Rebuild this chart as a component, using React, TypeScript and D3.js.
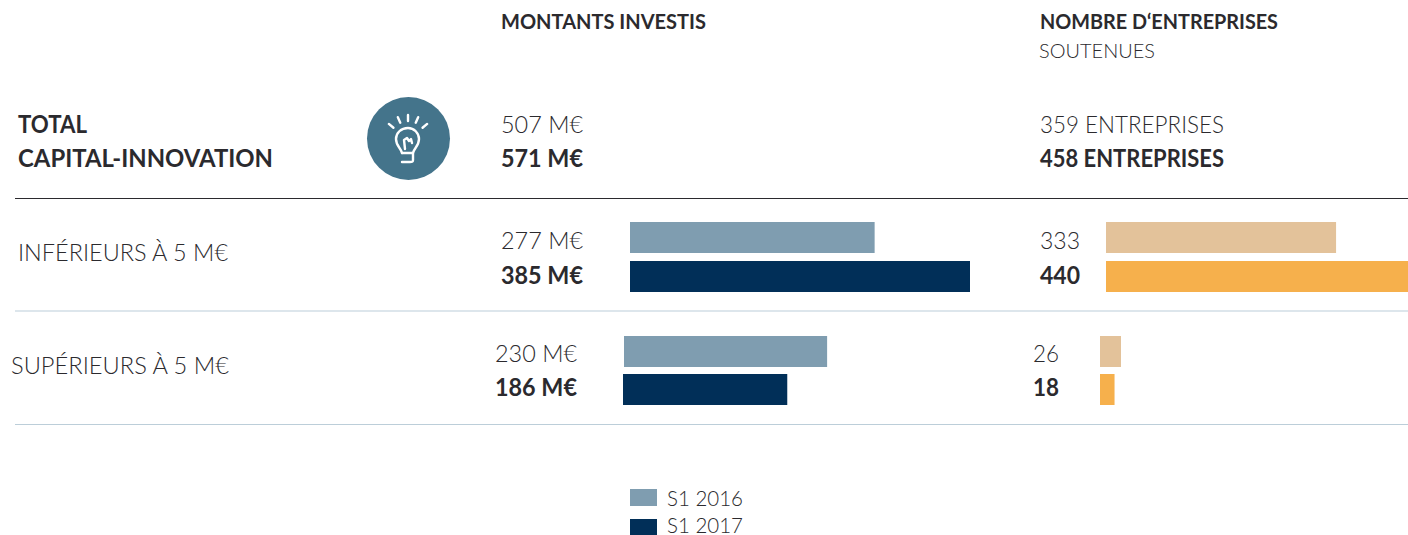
import React from "react";
import * as d3 from "d3";

const W = 1408, H = 535;
const FONT = "Lato, 'Open Sans', sans-serif";
const INK = "#2b2a2e";

const years = ["S1 2016", "S1 2017"];
const amountColors = ["#7f9db0", "#012f58"];
const countColors = ["#e3c29a", "#f6b04c"];
const totalAmounts = [507, 571];
const totalCounts = [359, 458];
const rowLabels = ["INFÉRIEURS À 5 M€", "SUPÉRIEURS À 5 M€"];
const amounts = [[277, 385], [230, 186]];
const counts = [[333, 440], [26, 18]];

const amountX = d3.scaleLinear().domain([0, 385]).range([0, 340]);
const countXs = [
  d3.scaleLinear().domain([0, 440]).range([0, 304]),
  d3.scaleLinear().domain([0, 26]).range([0, 21]),
];
// layout per row
const rowLayout = [
  { lblX: 18, lblY: 261, aTxt: 501, aBar: 630, aBar2: 630, cTxt: 1040, cBar: 1106, y: [222, 261], txtY: [249, 284], lineY: 311 },
  { lblX: 11, lblY: 374, aTxt: 495, aBar: 624, aBar2: 623, cTxt: 1033, cBar: 1100, y: [336, 374], txtY: [362, 396], lineY: 424.5 },
];
const BAR_H = 31;

function T({ x, y, children, bold, size = 24, len, fill = INK }: any) {
  return (
    <text x={x} y={y} fontFamily={FONT} fontSize={size} fontWeight={bold ? 700 : 300} fill={fill}
      textLength={len} lengthAdjust={len ? "spacingAndGlyphs" : undefined}>
      {children}
    </text>
  );
}

function Bulb() {
  const rayAngles = [-50, -24, 0, 24, 50];
  const cx = 408, cy = 140;
  return (
    <g>
      <circle cx={408.5} cy={138.5} r={41.5} fill="#44748b" />
      <g stroke="#fff" strokeWidth={2.4} fill="none" strokeLinecap="round" strokeLinejoin="round">
        {rayAngles.map((deg) => {
          const a = (deg * Math.PI) / 180;
          return (
            <line key={deg}
              x1={cx + Math.sin(a) * 19} y1={cy - Math.cos(a) * 19}
              x2={cx + Math.sin(a) * 25} y2={cy - Math.cos(a) * 25} />
          );
        })}
        <path d="M402 153 C401 148 396 146 396 139 C396 133 401 128 408 128 C414 128 419 133 419 139 C419 146 414 148 413 153 L413 160 C413 162 412 162 410 162 L402 162" />
        <path d="M405 149 L404 140 L407 138 L409 141 L411 139 L412 143 M402 153 L413 153" />
      </g>
    </g>
  );
}

export default function App() {
  return (
    <svg width={W} height={H} viewBox={`0 0 ${W} ${H}`} style={{ position: "absolute", left: 0, top: 0, background: "#fff" }}>
      <T x={501} y={29} bold size={20} len={205}>MONTANTS INVESTIS</T>
      <T x={1040} y={29} bold size={20} len={238}>NOMBRE D‘ENTREPRISES</T>
      <T x={1039} y={58} size={20} len={116}>SOUTENUES</T>

      <T x={18} y={133} bold size={24} len={69}>TOTAL</T>
      <T x={18} y={167} bold size={24} len={255}>CAPITAL-INNOVATION</T>
      <Bulb />
      <T x={501} y={133} len={82}>{totalAmounts[0]} M€</T>
      <T x={501} y={167} bold len={82}>{totalAmounts[1]} M€</T>
      <T x={1040} y={133} len={184}>{totalCounts[0]} ENTREPRISES</T>
      <T x={1040} y={167} bold len={184}>{totalCounts[1]} ENTREPRISES</T>
      <line x1={15} x2={1408} y1={198.5} y2={198.5} stroke="#2b2a2e" strokeWidth={1} />

      {rowLabels.map((label, r) => {
        const L = rowLayout[r];
        return (
          <g key={label}>
            <T x={L.lblX} y={L.lblY} len={r === 0 ? 210 : 218}>{label}</T>
            {[0, 1].map((k) => {
              const cx = countXs[r](counts[r][k]);
              return (
                <g key={k}>
                  <T x={L.aTxt} y={L.txtY[k]} bold={k === 1} len={82}>{amounts[r][k]} M€</T>
                  <rect x={k ? L.aBar2 : L.aBar} y={L.y[k]} width={amountX(amounts[r][k])} height={BAR_H} fill={amountColors[k]} />
                  <T x={L.cTxt} y={L.txtY[k]} bold={k === 1} len={r === 0 ? 40 : 26}>{counts[r][k]}</T>
                  <rect x={L.cBar} y={L.y[k]} width={cx} height={BAR_H} fill={countColors[k]} />
                </g>
              );
            })}
            <line x1={15} x2={1408} y1={L.lineY} y2={L.lineY} stroke="#bcced9" strokeWidth={1.2} />
          </g>
        );
      })}

      {years.map((y, i) => (
        <g key={y}>
          <rect x={630} y={489 + i * 30} width={27} height={17} fill={amountColors[i]} />
          <T x={667} y={506 + i * 27} size={21} len={76}>{y}</T>
        </g>
      ))}
    </svg>
  );
}
